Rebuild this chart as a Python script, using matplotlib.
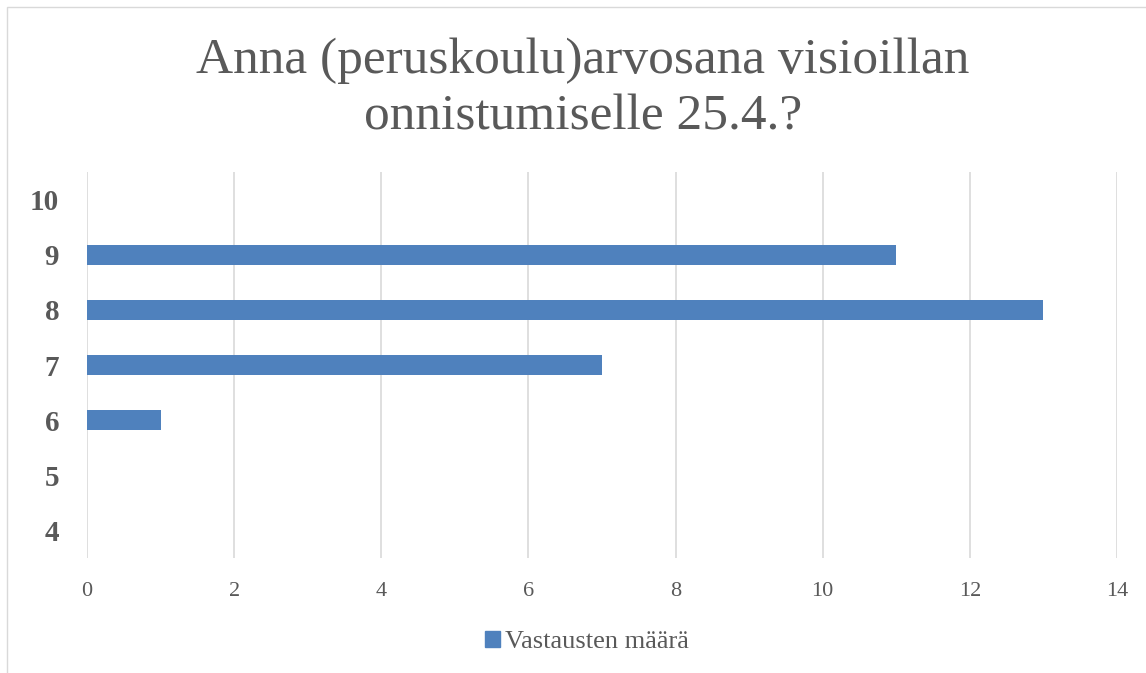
import matplotlib
matplotlib.use("Agg")
import matplotlib.pyplot as plt
from matplotlib.patches import Rectangle, Patch

categories = ["4", "5", "6", "7", "8", "9", "10"]
values = [0, 0, 1, 7, 13, 11, 0]
series_name = "Vastausten määrä"
title = "Anna (peruskoulu)arvosana visioillan\nonnistumiselle 25.4.?"
xticks = [0, 2, 4, 6, 8, 10, 12, 14]

plt.rcParams['font.family'] = ['Liberation Serif', 'DejaVu Serif']
gray = "#595959"
blue = "#4f81bd"

fig = plt.figure(figsize=(11.46, 6.73), dpi=100)
fig.patches.append(Rectangle((7/1146, -0.1), 1.2, 1 - 7/673 + 0.1,
                             transform=fig.transFigure, fill=False,
                             edgecolor="#d9d9d9", linewidth=1))
ax = fig.add_axes([87/1146, 1 - 558/673, (1117 - 87)/1146, (558 - 172)/673])
pos = list(range(len(categories)))
ax.barh(pos, values, height=0.36, color=blue, label=series_name, zorder=3)
ax.set_ylim(-0.5, len(categories) - 0.5)
ax.set_xlim(0, 14)
ax.set_xticks(xticks)
ax.set_xticklabels([str(t) for t in xticks], fontsize=16, color=gray)
ax.set_yticks(pos)
ax.set_yticklabels(categories, fontsize=21, fontweight="bold", color=gray)
ax.tick_params(axis='both', length=0)
ax.tick_params(axis='x', pad=17)
ax.tick_params(axis='y', pad=20)
for s in ax.spines.values():
    s.set_visible(False)
ax.grid(axis='x', color="#d9d9d9", linewidth=1.2, zorder=0)
ax.set_axisbelow(True)

fig.text(583/1146, 1 - 89/673, title, ha='center', va='center', fontsize=37,
         color=gray, linespacing=1.3)

fig.legend(handles=[Patch(color=blue, label=series_name)], loc='center',
           bbox_to_anchor=(587/1146, 1 - 642/673), frameon=False,
           fontsize=19, handlelength=0.55, handleheight=0.55, handletextpad=0.2,
           labelcolor=gray)

fig.savefig("out.png", dpi=100)
